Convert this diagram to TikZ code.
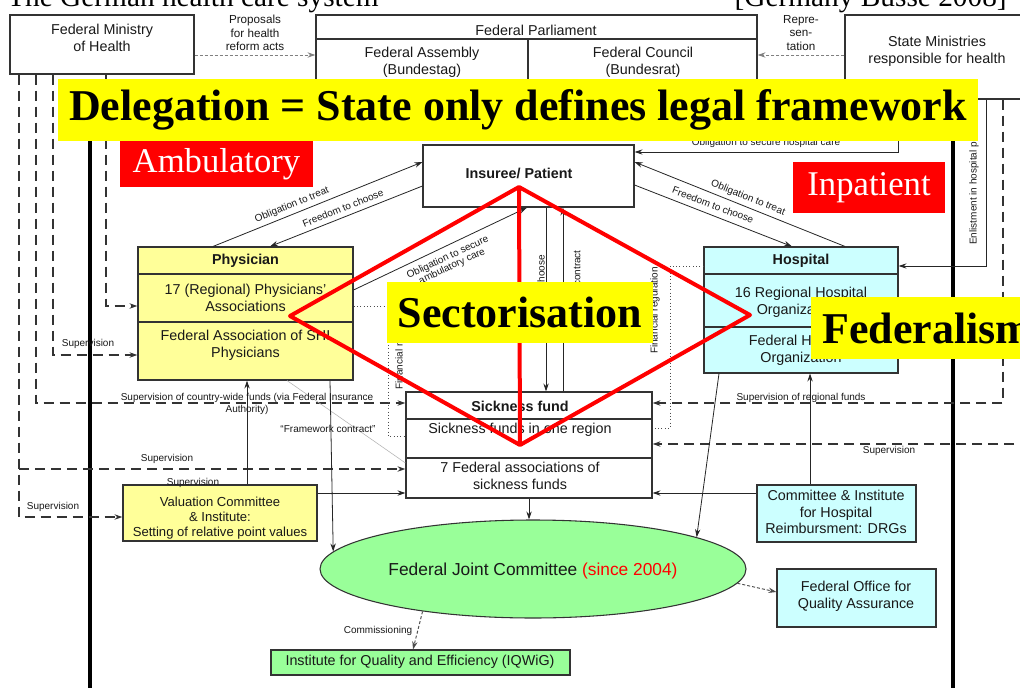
\documentclass[tikz,border=0pt]{standalone}
\usepackage{fontspec}
\setmainfont{Liberation Serif}
\setsansfont{Liberation Sans}
\usetikzlibrary{arrows.meta,shapes.geometric,fit}
\definecolor{ybox}{HTML}{FFFF99}
\definecolor{cbox}{HTML}{CCFFFF}
\definecolor{gbox}{HTML}{99FF99}
\definecolor{ban}{HTML}{FFFF00}
\definecolor{redlab}{HTML}{FF0000}
\definecolor{edge}{HTML}{333333}
\tikzset{
 box/.style={draw=edge, line width=0.8pt, inner sep=0pt},
 txt/.style={font=\sffamily\fontsize{10.75}{12.5}\selectfont, align=center, inner sep=0pt, text=black!90},
 ttl/.style={font=\sffamily\bfseries\fontsize{10.75}{12.5}\selectfont, align=center, inner sep=0pt, text=black!90},
 lbl/.style={font=\sffamily\fontsize{7.5}{9}\selectfont, inner sep=0pt, align=center, text=black!90},
 toplbl/.style={font=\sffamily\fontsize{8.75}{10}\selectfont, inner sep=0pt, align=center, text=black!90},
 conn/.style={draw=black!85, line width=0.6pt},
 arr/.style={conn, -{Stealth[length=6pt,width=4pt]}},
 sup/.style={draw=black!80, line width=1pt, dash pattern=on 7.5pt off 4.5pt},
 suparr/.style={sup, -{Stealth[length=6pt,width=4pt]}},
 dsh/.style={draw=gray, line width=0.7pt, dash pattern=on 2.25pt off 1.5pt, -{Stealth[length=6pt,width=4pt]}},
 dotl/.style={draw=black!70, line width=0.5pt, dotted},
 banner/.style={fill=ban, inner sep=0pt, font=\bfseries\fontsize{33}{36}\selectfont},
 redbox/.style={fill=redlab, text=white, inner sep=0pt, font=\fontsize{26}{28}\selectfont},
}
\begin{document}
\begin{tikzpicture}[x=0.75pt,y=-0.75pt]
\useasboundingbox (0,0) rectangle (1020,688);
\fill[white] (0,0) rectangle (1020,688);

% title (cut off at top)
\node[anchor=base west, inner sep=0pt, font=\fontsize{22}{24}\selectfont] (title) at (7,6.5) {The German health care system};
\node[anchor=base east, inner sep=0pt, font=\fontsize{22}{24}\selectfont] (src) at (1007,6.5) {[Germany Busse 2008]};

% thick frame lines
\draw[line width=3pt] (90,120) -- (90,700);
\draw[line width=3pt] (953,120) -- (953,700);

% top boxes
\node[box, fit={(10,15) (194,74)}] (min) {};
\node[txt] (mint) at (102,38) {Federal Ministry\\of Health};
\node[box, fit={(316,15) (757,95)}] (parl) {};
\draw[box] (parl.west |- 0,39) -- (parl.east |- 0,39);
\draw[box] (528,39) -- (528,95);
\node[txt] (parlt) at (536,30) {Federal Parliament};
\node[txt] (bt) at (422,62) {Federal Assembly\\(Bundestag)};
\node[txt] (br) at (643,62) {Federal Council\\(Bundesrat)};
\node[box, fit={(845,15) (1030,99)}] (state) {};
\node[txt] (statet) at (937,51) {State Ministries\\responsible for health};

\draw[dsh] (min.east |- 0,55) -- (parl.west |- 0,55);
\node[toplbl] (prop) at (255,33) {Proposals\\for health\\reform acts};
\draw[dsh] (state.west |- 0,55) -- (parl.east |- 0,55);
\node[toplbl] (rep) at (801,33) {Repre-\\sen-\\tation};

% main boxes
\node[box, fill=white, fit={(423,145) (634,207)}] (ins) {};
\node[ttl] (inst) at (519,173) {Insuree/ Patient};

\node[box, fill=ybox, fit={(138,247) (353,380)}] (phys) {};
\draw[box] (phys.west |- 0,274) -- (phys.east |- 0,274);
\draw[box] (phys.west |- 0,322) -- (phys.east |- 0,322);
\node[ttl] (physt) at (245.5,261) {Physician};
\node[txt] (phys1) at (245.5,298) {17 (Regional) Physicians'\\Associations};
\node[txt] (phys2) at (245.5,345) {Federal Association of SHI\\Physicians};

\node[box, fill=cbox, fit={(704,247) (898,373)}] (hosp) {};
\draw[box] (hosp.west |- 0,274) -- (hosp.east |- 0,274);
\draw[box, line width=1.1pt] (hosp.west |- 0,327) -- (hosp.east |- 0,327);
\node[ttl] (hospt) at (801,261) {Hospital};
\node[txt] (hosp1) at (801,302) {16 Regional Hospital\\Organizations};
\node[txt] (hosp2) at (801,350) {Federal Hospital\\Organization};

\node[box, fill=white, fit={(406,392) (652,498)}] (sf) {};
\draw[box] (sf.west |- 0,419) -- (sf.east |- 0,419);
\draw[box] (sf.west |- 0,458) -- (sf.east |- 0,458);
\node[ttl] (sft) at (520,406) {Sickness fund};
\node[txt] (sf1) at (520,430) {Sickness funds in one region};
\node[txt] (sf2) at (520,476) {7 Federal associations of\\sickness funds};

\node[box, fill=ybox, fit={(123,485) (317,541)}] (val) {};
\node[txt, font=\sffamily\fontsize{9.8}{11.5}\selectfont] (valt) at (220,518) {Valuation Committee\\\& Institute:\\Setting of relative point values};

\node[box, fill=cbox, fit={(757,485) (916,542)}] (com) {};
\node[txt] (comt) at (836,512) {Committee \& Institute\\for Hospital\\Reimbursment: DRGs};

\node[ellipse, draw=edge, line width=0.8pt, fill=gbox, minimum width=319.5pt, minimum height=73.5pt, inner sep=0pt] (fjc) at (533,569) {};
\node[font=\sffamily\fontsize{13}{15}\selectfont, inner sep=0pt, text=black!90] (fjct) at (533,571) {Federal Joint Committee \textcolor{red}{(since 2004)}};

\node[box, fill=cbox, fit={(777,569) (936,627)}] (fqa) {};
\node[txt] (fqat) at (856,596) {Federal Office for\\Quality Assurance};

\node[box, fill=gbox, fit={(271,650) (570,675)}] (iq) {};
\node[txt] (iqt) at (420,662) {Institute for Quality and Efficiency (IQWiG)};

% supervision lines from federal ministry
\draw[suparr] (min.south -| 19,0) -- (19,517) -- (val.west |- 0,517);
\draw[suparr] (19,469) -- (sf.west |- 0,469);
\draw[suparr] (min.south -| 36,0) -- (36,403) -- (sf.west |- 0,403);
\draw[suparr] (min.south -| 53,0) -- (53,355) -- (phys.west |- 0,355);
\draw[suparr] (min.south -| 106,0) -- (106,306) -- (phys.west |- 0,306);

% from state ministries
\draw[arr] (state.south -| 898,0) -- (898,152) -- (ins.east |- 0,152);
\draw[arr] (state.south -| 986,0) -- (986,266) -- (hosp.east |- 0,266);
\draw[suparr] (state.south -| 1003,0) -- (1003,403) -- (sf.east |- 0,403);
\coordinate (rightedge) at (1030,444);
\draw[suparr] (rightedge) -- (sf.east |- 0,444);

% insuree relations
\draw[arr] (phys.north -| 213,0) -- (ins.west |- 0,162);
\draw[arr] (ins.west |- 0,186) -- (phys.north -| 270,0);
\draw[arr] (hosp.north -| 845,0) -- (ins.east |- 0,162);
\draw[arr] (ins.east |- 0,185) -- (hosp.north -| 792,0);
\draw[arr] (phys.east |- 0,290) -- (ins.south -| 527,0);
\draw[arr] (ins.south -| 546,0) -- (sf.north -| 546,0);
\draw[arr] (sf.north -| 563,0) -- (ins.south -| 563,0);

% financial (dotted)
\draw[dotl] (phys.east |- 0,306) -- (388,306) -- (388,436) -- (sf.west |- 0,436);
\draw[dotl] (hosp.west |- 0,266) -- (670,266) -- (670,428) -- (sf.east |- 0,428);

% framework contract
\draw[draw=gray!60, line width=0.4pt] (phys.south -| 287,0) -- (sf.west |- 0,463);

% lower connections
\draw[arr] (val.north -| 247,0) -- (phys.south -| 247,0);
\draw[arr] (val.east |- 0,493) -- (sf.west |- 0,493);
\draw[arr] (com.west |- 0,493) -- (sf.east |- 0,493);
\draw[arr] (com.north -| 810,0) -- (hosp.south -| 810,0);
\draw[arr] (phys.south -| 330,0) -- (fjc.175);
\draw[arr] (hosp.south -| 719,0) -- (fjc.11);
\draw[arr] (sf.south) -- (sf.south |- fjc.north);
\draw[dsh, draw=black!70] (fjc.356) -- (fqa.west |- 0,592);
\draw[dsh, draw=black!70] (fjc.201) -- (iq.north -| 413,0);

% labels
\node[lbl, rotate=22] (l1) at (292,205) {Obligation to treat};
\node[lbl, rotate=22] (l2) at (343,208) {Freedom to choose};
\node[lbl, rotate=25, font=\sffamily\fontsize{7.5}{7.5}\selectfont] (l3) at (450,262) {Obligation to secure\\ambulatory care};
\node[lbl, rotate=-22] (l4) at (748,198) {Obligation to treat};
\node[lbl, rotate=-21] (l5) at (713,205) {Freedom to choose};
\node[lbl, rotate=90, anchor=east] (l6) at (541,255) {Freedom to choose};
\node[lbl, rotate=90, anchor=east] (l7) at (577,250) {Insurance contract};
\node[lbl, rotate=90, anchor=east] (l8) at (655,267) {Financial regulation};
\node[lbl, rotate=90, anchor=west] (l9) at (400,390) {Financial negotiations};
\node[lbl, rotate=90, anchor=west] (l10) at (974,245) {Enlistment in hospital plans};
\node[lbl] (l11) at (766,143) {Obligation to secure hospital care};
\node[lbl] (l12) at (88,344) {Supervision};
\node[lbl] (l13) at (247,404) {Supervision of country-wide funds (via Federal Insurance\\Authority)};
\node[lbl] (l14) at (328,429) {“Framework contract”};
\node[lbl] (l15) at (167,459) {Supervision};
\node[lbl] (l16) at (193,483) {Supervision};
\node[lbl] (l17) at (53,507) {Supervision};
\node[lbl] (l18) at (801,398) {Supervision of regional funds};
\node[lbl] (l19) at (889,451) {Supervision};
\node[lbl] (l20) at (378,631) {Commissioning};

% red diamond
\draw[red, line width=3pt, line join=round] (519,187) -- (290,316) -- (520,445) -- (750,315) -- cycle (519,187) -- (520,445);

% banners
\node[banner, minimum width=690pt, minimum height=46.5pt] (deleg) at (518,110) {Delegation = State only defines legal framework};
\node[banner, minimum width=199.5pt, minimum height=45.75pt] (sect) at (520,312.5) {Sectorisation};
\node[banner, anchor=west, inner xsep=8.25pt, minimum height=46.5pt] (fed) at (811,328) {Federalism};
\node[redbox, minimum width=144.75pt, minimum height=34.5pt] (amb) at (216.5,164) {Ambulatory};
\node[redbox, minimum width=114pt, minimum height=38.25pt] (inp) at (869,187.5) {Inpatient};
\end{tikzpicture}
\end{document}
